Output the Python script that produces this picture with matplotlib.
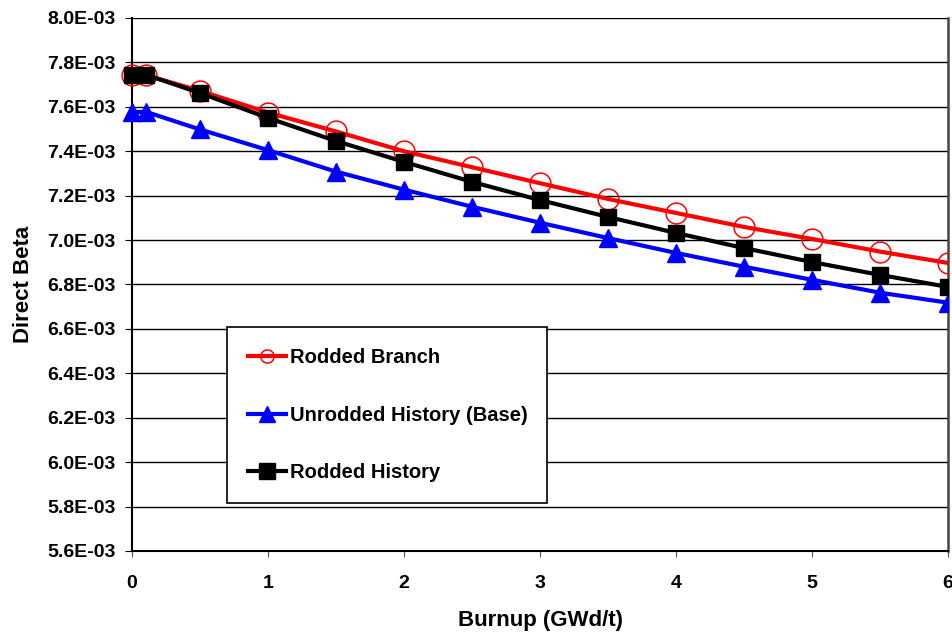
import numpy as np
import matplotlib.pyplot as plt
from matplotlib.patches import Rectangle
from matplotlib.ticker import FuncFormatter

plt.rcParams['font.family'] = ['Liberation Sans', 'DejaVu Sans']
plt.rcParams['font.weight'] = 'bold'

# burnup points (GWd/t)
burnup = [0.0, 0.1, 0.5, 1.0, 1.5, 2.0, 2.5, 3.0, 3.5, 4.0, 4.5, 5.0, 5.5, 6.0]

# direct beta values (x 1e-3)
rodded_branch = [7.743, 7.743, 7.672, 7.574, 7.489, 7.400, 7.328, 7.256,
                 7.185, 7.122, 7.059, 7.005, 6.948, 6.897]
unrodded_base = [7.575, 7.578, 7.498, 7.405, 7.308, 7.227, 7.150, 7.078,
                 7.009, 6.942, 6.880, 6.821, 6.763, 6.718]
rodded_history = [7.743, 7.745, 7.662, 7.550, 7.446, 7.352, 7.262, 7.180,
                  7.104, 7.032, 6.964, 6.901, 6.843, 6.789]

rb = np.array(rodded_branch) * 1e-3
ub = np.array(unrodded_base) * 1e-3
rh = np.array(rodded_history) * 1e-3

fig = plt.figure(figsize=(9.53, 6.35), dpi=100)
ax = fig.add_axes([0.1385, 0.1323, 0.8563, 0.8394])

l1, = ax.plot(burnup, rb, color='red', linewidth=3, marker='o', markersize=15,
              markerfacecolor='none', markeredgecolor='red', markeredgewidth=1.1,
              label='Rodded Branch', zorder=3)
l2, = ax.plot(burnup, ub, color='blue', linewidth=3, marker='^', markersize=13,
              markerfacecolor='blue', markeredgecolor='blue',
              label='Unrodded History (Base)', zorder=4)
l3, = ax.plot(burnup, rh, color='black', linewidth=3, marker='s', markersize=12,
              markerfacecolor='black', markeredgecolor='black',
              label='Rodded History', zorder=5)

# clip only on the right side (markers at x=0 spill over the axis)
clip = Rectangle((-0.05, -0.05), 1.05, 1.1, transform=ax.transAxes,
                 facecolor='none', edgecolor='none')
ax.add_patch(clip)
for ln in (l1, l2, l3):
    ln.set_clip_path(clip)

ax.set_xlim(0, 6)
ax.set_ylim(5.6e-3, 8.0e-3)
ax.set_xticks(range(0, 7))
ax.set_yticks(np.arange(5.6e-3, 8.0e-3 + 1e-6, 0.2e-3))
ax.yaxis.set_major_formatter(FuncFormatter(lambda v, p: '%.1E' % v))
ax.grid(axis='y', color='black', linewidth=1.0)
ax.set_axisbelow(True)

ax.spines['top'].set_visible(False)
ax.spines['right'].set_color('#444444')
ax.spines['right'].set_linewidth(1.8)
ax.spines['left'].set_linewidth(1.5)
ax.spines['bottom'].set_linewidth(1.5)

ax.tick_params(axis='y', labelsize=14, length=5, direction='out', pad=7)
ax.tick_params(axis='x', labelsize=14, length=4, direction='out', pad=13,
               color='#555555')
for lab in ax.get_xticklabels() + ax.get_yticklabels():
    lab.set_fontweight('bold')

ax.set_xlabel('Burnup (GWd/t)', fontsize=16, fontweight='bold')
ax.set_ylabel('Direct Beta', fontsize=16, fontweight='bold')
ax.xaxis.set_label_coords(0.5, -0.111)
ax.yaxis.set_label_coords(-0.12, 0.5)

leg = ax.legend(loc='lower left', bbox_to_anchor=(0.1164, 0.09, 0.392, 0.3265),
                mode='expand', borderaxespad=0, fontsize=14.5, frameon=True,
                fancybox=False, edgecolor='black', framealpha=1,
                labelspacing=1.9, handlelength=1.9, handletextpad=0.2,
                borderpad=1.05)
leg.get_frame().set_linewidth(1.2)
for t in leg.get_texts():
    t.set_fontweight('bold')
for h, ms in zip(leg.legend_handles, [9.5, 12, 11]):
    h.set_markersize(ms)

fig.savefig('out.png', dpi=100)
